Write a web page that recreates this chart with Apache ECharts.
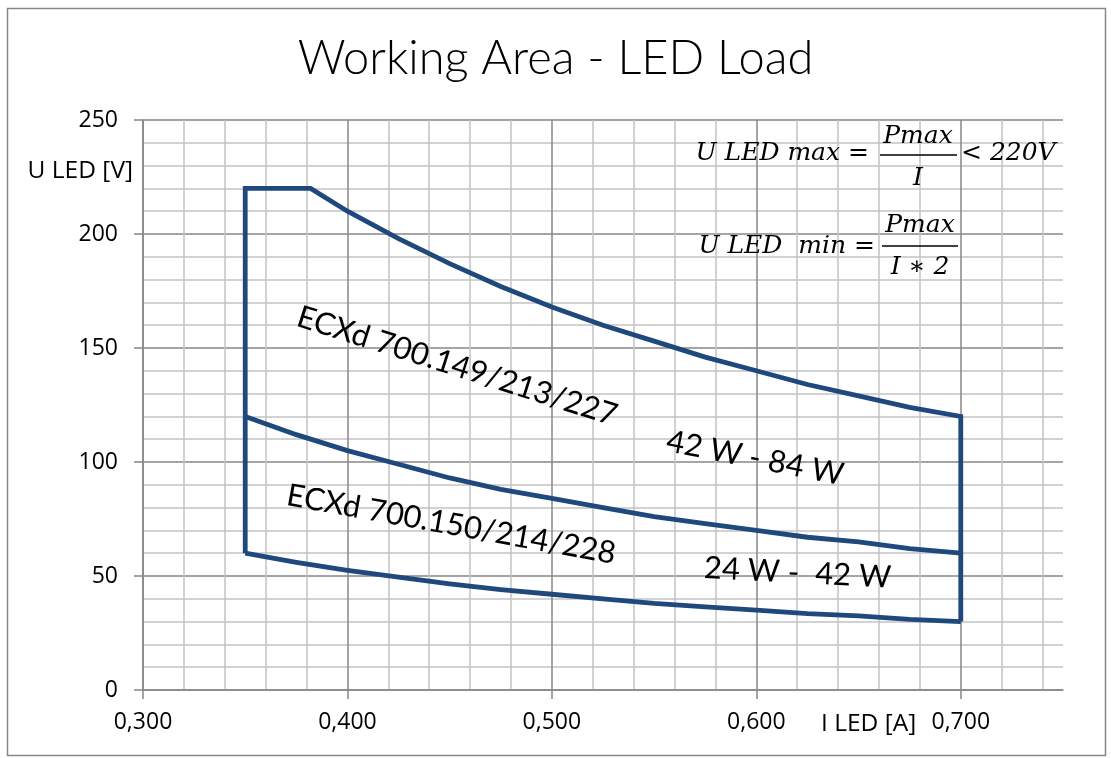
<!DOCTYPE html>
<html>
<head>
<meta charset="utf-8">
<script src="https://cdn.jsdelivr.net/npm/echarts@6/dist/echarts.min.js"></script>
<style>
  html, body { margin: 0; padding: 0; background: #ffffff; }
  #chart { width: 1111px; height: 758px; }
</style>
</head>
<body>
<div id="chart"></div>
<script>
// ---- data ----
const titleText = 'Working Area - LED Load';
const xAxisName = 'I LED [A]';
const yAxisName = 'U LED [V]';
const xTickValues = [0.3, 0.4, 0.5, 0.6, 0.7];

// outline of the working area (ECXd 700.149/213/227 : 42 W - 84 W)
const outlineX = [0.35, 0.35, 0.382, 0.40, 0.425, 0.45, 0.475, 0.50, 0.525, 0.55, 0.575, 0.60, 0.625, 0.65, 0.675, 0.70, 0.70];
const outlineY = [60, 220, 220, 210, 198, 187, 177, 168, 160, 153, 146, 140, 134, 129, 124, 120, 30];

// middle boundary (84 W min / 42 W max)
const midX = [0.35, 0.375, 0.40, 0.425, 0.45, 0.475, 0.50, 0.525, 0.55, 0.575, 0.60, 0.625, 0.65, 0.675, 0.70];
const midY = [120, 112, 105, 99, 93, 88, 84, 80, 76, 73, 70, 67, 65, 62, 60];

// lower boundary (42 W min)
const lowX = [0.35, 0.375, 0.40, 0.425, 0.45, 0.475, 0.50, 0.525, 0.55, 0.575, 0.60, 0.625, 0.65, 0.675, 0.70];
const lowY = [60, 56, 52.5, 49.5, 46.5, 44, 42, 40, 38, 36.5, 35, 33.5, 32.5, 31, 30];

const regionLabels = ['ECXd 700.149/213/227', '42 W - 84 W', 'ECXd 700.150/214/228', '24 W -  42 W'];

const pair = (xs, ys) => xs.map((x, i) => [x, ys[i]]);

const LINE = '#1F497D';
const MAJOR = '#878787';
const MINOR = '#c3c3c3';
const TICKFONT = '"Open Sans", "Liberation Sans", sans-serif';
const LABFONT = 'Lato, "Open Sans", sans-serif';
const MATHFONT = '"DejaVu Serif", "Liberation Serif", serif';

const chart = echarts.init(document.getElementById('chart'), null, { renderer: 'canvas' });

const deg = d => d * Math.PI / 180;

const mathStyle = (text, x, y, align) => ({
  type: 'text', x: x, y: y, z: 20,
  style: { text: text, fontFamily: MATHFONT, fontStyle: 'italic', fontSize: 25, fill: '#000', align: align, verticalAlign: 'middle' }
});

chart.setOption({
  backgroundColor: '#ffffff',
  animation: false,
  title: {
    text: titleText,
    left: 'center',
    top: 30,
    textStyle: { fontFamily: LABFONT, fontWeight: 300, fontSize: 47, color: '#000' }
  },
  grid: { left: 143, top: 120, right: 48, bottom: 68, containLabel: false },
  xAxis: {
    type: 'value',
    min: 0.3, max: 0.75, interval: 0.1,
    axisLine: { show: true, lineStyle: { color: MAJOR, width: 1.5 } },
    axisTick: { show: true, length: 9, customValues: xTickValues, lineStyle: { color: MAJOR, width: 1.5 } },
    axisLabel: {
      margin: 21, fontFamily: TICKFONT, fontSize: 23, color: '#000',
      customValues: xTickValues,
      formatter: v => v.toFixed(3).replace('.', ',')
    },
    splitLine: { show: true, lineStyle: { color: MAJOR, width: 1.5 } },
    minorTick: { show: false, splitNumber: 5 },
    minorSplitLine: { show: true, lineStyle: { color: MINOR, width: 1.5 } }
  },
  yAxis: {
    type: 'value',
    min: 0, max: 250, interval: 50,
    axisLine: { show: true, lineStyle: { color: MAJOR, width: 1.5 } },
    axisTick: { show: true, length: 9, lineStyle: { color: MAJOR, width: 1.5 } },
    axisLabel: { margin: 25, fontFamily: TICKFONT, fontSize: 23, color: '#000' },
    splitLine: { show: true, lineStyle: { color: MAJOR, width: 1.5 } },
    minorTick: { show: false, splitNumber: 5 },
    minorSplitLine: { show: true, lineStyle: { color: MINOR, width: 1.5 } }
  },
  series: [
    { name: 'outline', type: 'line', data: pair(outlineX, outlineY), showSymbol: false, symbol: 'none',
      lineStyle: { color: LINE, width: 4.8, join: 'miter' }, z: 5 },
    { name: 'middle', type: 'line', data: pair(midX, midY), showSymbol: false, symbol: 'none',
      lineStyle: { color: LINE, width: 4.8, join: 'miter' }, z: 5 },
    { name: 'lower', type: 'line', data: pair(lowX, lowY), showSymbol: false, symbol: 'none',
      lineStyle: { color: LINE, width: 4.8, join: 'miter' }, z: 5 }
  ],
  graphic: [
    { type: 'rect', shape: { x: 7.5, y: 8.5, width: 1098, height: 747 }, z: -10, silent: true,
      style: { fill: 'none', stroke: MAJOR, lineWidth: 1.5 } },
    { type: 'text', x: 133, y: 171, z: 20,
      style: { text: yAxisName, fontFamily: TICKFONT, fontSize: 24.5, fill: '#000', align: 'right', verticalAlign: 'middle' } },
    { type: 'text', x: 821, y: 724, z: 20,
      style: { text: xAxisName, fontFamily: TICKFONT, fontSize: 24.5, fill: '#000', align: 'left', verticalAlign: 'middle' } },
    // region labels
    { type: 'text', x: 298, y: 316, rotation: -deg(17.5), z: 20,
      style: { text: regionLabels[0], fontFamily: LABFONT, fontSize: 31, fill: '#000', align: 'left', verticalAlign: 'middle' } },
    { type: 'text', x: 667, y: 441, rotation: -deg(11), z: 20,
      style: { text: regionLabels[1], fontFamily: LABFONT, fontSize: 31, fill: '#000', align: 'left', verticalAlign: 'middle' } },
    { type: 'text', x: 287, y: 495, rotation: -deg(10.2), z: 20,
      style: { text: regionLabels[2], fontFamily: LABFONT, fontSize: 31, fill: '#000', align: 'left', verticalAlign: 'middle' } },
    { type: 'text', x: 704, y: 568, rotation: -deg(3), z: 20,
      style: { text: regionLabels[3], fontFamily: LABFONT, fontSize: 31, fill: '#000', align: 'left', verticalAlign: 'middle' } },
    // formulas
    mathStyle('U LED max =', 869, 153, 'right'),
    mathStyle('Pmax', 918, 136, 'center'),
    { type: 'line', shape: { x1: 880, y1: 155, x2: 957, y2: 155 }, z: 20, style: { stroke: '#000', lineWidth: 1.5 } },
    mathStyle('I', 918, 178, 'center'),
    mathStyle('< 220V', 961, 153, 'left'),
    mathStyle('U LED  min =', 875, 246, 'right'),
    mathStyle('Pmax', 920, 225, 'center'),
    { type: 'line', shape: { x1: 882, y1: 246, x2: 958, y2: 246 }, z: 20, style: { stroke: '#000', lineWidth: 1.5 } },
    mathStyle('I ∗ 2', 920, 267, 'center')
  ]
});
</script>
</body>
</html>
